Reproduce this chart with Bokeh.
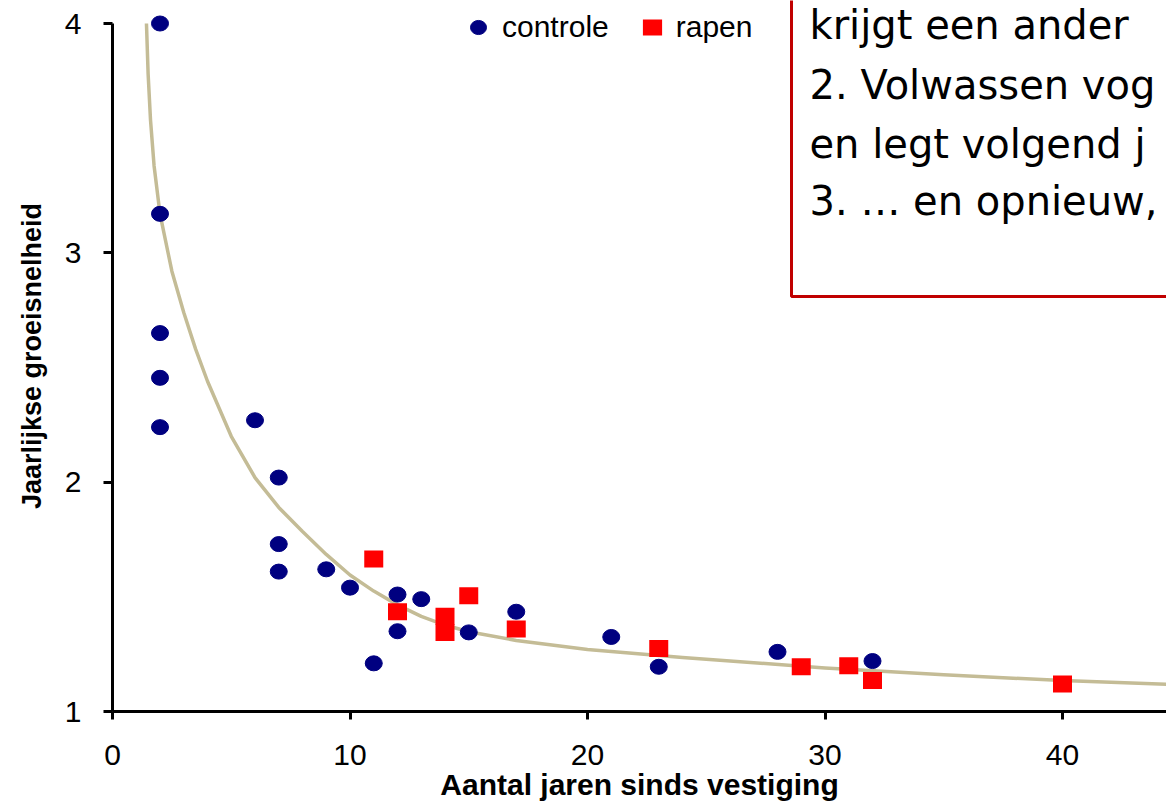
from bokeh.plotting import figure
from bokeh.models import FixedTicker, Legend, LegendItem, BoxAnnotation
from bokeh.core.properties import value
from bokeh.embed import file_html
from bokeh.resources import INLINE

# ---- data ----
controle_x = [2, 2, 2, 2, 2, 6, 7, 7, 7, 9, 10, 11, 12, 12, 13, 14, 15, 17, 21, 23, 28, 32]
controle_y = [4.0, 3.17, 2.65, 2.455, 2.24, 2.27, 2.02, 1.73, 1.61, 1.62, 1.54, 1.21,
              1.51, 1.35, 1.49, 1.38, 1.345, 1.435, 1.325, 1.195, 1.26, 1.22]

rapen_x = [11, 12, 14, 14, 15, 17, 23, 29, 31, 32, 40]
rapen_y = [1.665, 1.435, 1.415, 1.345, 1.505, 1.36, 1.275, 1.195, 1.2, 1.135, 1.12]

# trend line
trend_x = [1.43, 1.5, 1.6, 1.75, 2.0, 2.5, 3.0, 3.5, 4.0, 5.0, 6.0, 7.0, 8.0, 9.0, 10.0,
           11.0, 12.0, 13.0, 14.0, 15.0, 17.0, 20.0, 24.0, 30.0, 35.0, 40.0, 45.0]
trend_y = [4.0, 3.78, 3.58, 3.38, 3.17, 2.92, 2.74, 2.58, 2.44, 2.20, 2.02, 1.89, 1.785,
           1.685, 1.595, 1.525, 1.465, 1.415, 1.377, 1.348, 1.31, 1.27, 1.235, 1.19,
           1.16, 1.135, 1.117]

x_ticks = [0, 10, 20, 30, 40]
y_ticks = [1, 2, 3, 4]
series_names = ["controle", "rapen"]
x_title = "Aantal jaren sinds vestiging"
y_title = "Jaarlijkse groeisnelheid"
box_lines = ["krijgt een ander", "2. Volwassen vog", "en legt volgend j", "3. \u2026 en opnieuw,"]

# ---- layout ----
FIG_W, FIG_H = 1166, 803
LEFT = 112          # pixel of x = 0
Y1_PX = 711         # pixel of y = 1
BOTTOM = FIG_H - Y1_PX
PX_X = 23.75
PX_Y = 229.33
x_end = (FIG_W - LEFT) / PX_X
y_end = 1 + Y1_PX / PX_Y


def dx(px):
    return (px - LEFT) / PX_X


def dy(py):
    return 1 + (Y1_PX - py) / PX_Y


p = figure(width=FIG_W, height=FIG_H, x_range=(0, x_end), y_range=(1, y_end),
           output_backend="svg", toolbar_location=None,
           min_border_left=LEFT, min_border_right=0, min_border_top=0,
           min_border_bottom=BOTTOM)
p.outline_line_color = None
p.grid.visible = False
p.background_fill_color = "white"
p.border_fill_color = "white"

# text box (outline only, behind the text)
box = BoxAnnotation(left=dx(791), right=x_end + 5, bottom=dy(296), top=y_end + 1,
                    fill_color=None, fill_alpha=0,
                    line_color="#C00000", line_alpha=1.0, line_width=3,
                    level="underlay")
p.add_layout(box)

box_y = [dy(24), dy(84), dy(143), dy(200)]
p.text(x=[dx(809)] * len(box_lines), y=box_y, text=box_lines,
       text_font=value("DejaVu Sans"), text_font_size="40px",
       text_color="black", text_baseline="alphabetic", text_align="left")

# trend line
p.line(trend_x, trend_y, line_color="#C4BC96", line_width=3.5, line_join="round")

r1 = p.ellipse(x=controle_x, y=controle_y, width=17, height=15,
               width_units="screen", height_units="screen",
               fill_color="#000080", line_color="#000080")
r2 = p.rect(x=rapen_x, y=rapen_y, width=19, height=17,
            width_units="screen", height_units="screen",
            fill_color="#FF0000", line_color=None)

FONT = "Liberation Sans"
xa = p.xaxis[0]
xa.ticker = FixedTicker(ticks=x_ticks)
xa.axis_line_width = 3
xa.axis_line_color = "black"
xa.major_tick_line_width = 3
xa.major_tick_line_color = "black"
xa.major_tick_out = 8
xa.major_tick_in = 0
xa.minor_tick_line_color = None
xa.major_label_text_font = FONT
xa.major_label_text_font_size = "30px"
xa.major_label_text_color = "black"
xa.major_label_standoff = 25
xa.axis_label = x_title
xa.axis_label_text_font = FONT
xa.axis_label_text_font_size = "30px"
xa.axis_label_text_font_style = "bold"
xa.axis_label_text_color = "black"
xa.axis_label_standoff = 0

ya = p.yaxis[0]
ya.ticker = FixedTicker(ticks=y_ticks)
ya.bounds = (1, 4)
ya.axis_line_width = 3
ya.axis_line_color = "black"
ya.major_tick_line_width = 3
ya.major_tick_line_color = "black"
ya.major_tick_out = 9
ya.major_tick_in = 0
ya.minor_tick_line_color = None
ya.major_label_text_font = FONT
ya.major_label_text_font_size = "30px"
ya.major_label_text_color = "black"
ya.major_label_standoff = 22
ya.axis_label = y_title
ya.axis_label_text_font = FONT
ya.axis_label_text_font_size = "27px"
ya.axis_label_text_font_style = "bold"
ya.axis_label_text_color = "black"
ya.axis_label_standoff = 15

legend = Legend(items=[LegendItem(label=series_names[0], renderers=[r1]),
                       LegendItem(label=series_names[1], renderers=[r2])],
                orientation="horizontal", location=(354, 667),
                padding=0, margin=0, spacing=31, label_standoff=12,
                glyph_width=24, glyph_height=20,
                border_line_color=None, background_fill_alpha=0,
                label_text_font=FONT, label_text_font_size="30px",
                label_text_color="black")
p.add_layout(legend)

open("out.html", "w").write(file_html(p, INLINE))
